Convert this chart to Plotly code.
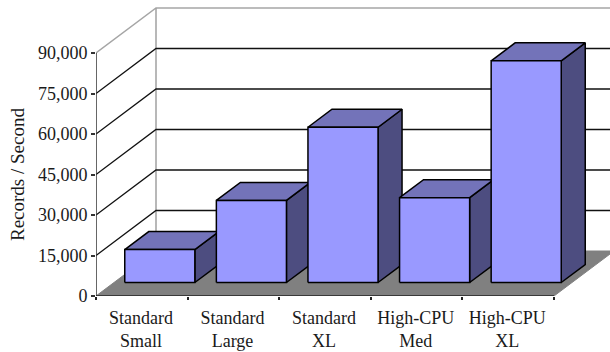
import plotly.graph_objects as go

# Chart content
categories = ["Standard<br>Small", "Standard<br>Large", "Standard<br>XL", "High-CPU<br>Med", "High-CPU<br>XL"]
records_per_second = [12200, 30400, 57500, 31400, 82100]
value_ticks = [0, 15000, 30000, 45000, 60000, 75000, 90000]

# Oblique projection: full depth of the chart box, in axis units
DEPTH_X = 0.655
DEPTH_Y = 16667
BAR_FRONT = 0.3
BAR_BACK = 0.7
BAR_WIDTH = 0.765
TEXT_COLOR = "#1a1a1a"

X_MAX = 5.0
fig = go.Figure()


def project(x, depth, value):
    return x + depth * DEPTH_X, value + depth * DEPTH_Y


def poly(corners, fill=None, line="#000000", width=1.5):
    xs, ys = zip(*[project(*c) for c in corners])
    fig.add_trace(go.Scatter(
        x=list(xs), y=list(ys), mode="lines",
        fill="toself" if fill else None, fillcolor=fill,
        line=dict(color=line, width=width), hoverinfo="skip", showlegend=False,
    ))


# Floor
poly([(0, 0, 0), (X_MAX, 0, 0), (X_MAX, 1, 0), (0, 1, 0), (0, 0, 0)], fill="#808080", line="#808080", width=1)

# Wall edges and gridlines
poly([(0, 0, 90000), (0, 1, 90000), (X_MAX, 1, 90000)], line="#a6a6a6", width=1.5)
poly([(0, 1, 0), (0, 1, 90000)], line="#a0a0a0", width=1.5)
for v in value_ticks[1:-1]:
    poly([(0, 0, v), (0, 1, v), (X_MAX, 1, v)], line="#111111", width=1.3)

# Bars, left to right so nearer faces overlap correctly
for i, v in enumerate(records_per_second):
    x0 = i + (1 - BAR_WIDTH) / 2
    x1 = x0 + BAR_WIDTH
    f, b = BAR_FRONT, BAR_BACK
    poly([(x1, f, 0), (x1, b, 0), (x1, b, v), (x1, f, v), (x1, f, 0)], fill="#4d4d80")
    poly([(x0, f, v), (x1, f, v), (x1, b, v), (x0, b, v), (x0, f, v)], fill="#7373b9")
    poly([(x0, f, 0), (x1, f, 0), (x1, f, v), (x0, f, v), (x0, f, 0)], fill="#9999ff")

# Front axis lines
poly([(0, 0, 0), (0, 0, 90000)], line="#333333", width=1.5)
poly([(0, 0, 0), (X_MAX, 0, 0)], line="#222222", width=1.5)

fig.update_layout(
    width=610, height=352,
    margin=dict(l=96, r=0, t=0, b=56, autoexpand=False),
    paper_bgcolor="white", plot_bgcolor="white",
    showlegend=False,
    xaxis=dict(
        range=[0, 514 / 91.6],
        tickmode="array",
        tickvals=[i + 0.49 for i in range(len(categories))],
        ticktext=categories,
        ticks="outside", ticklen=5, tickcolor="rgba(0,0,0,0)",
        showgrid=False, zeroline=False, showline=False,
        tickfont=dict(family="Liberation Serif", size=18, color=TEXT_COLOR),
        minor=dict(
            tickmode="array", tickvals=[0, 1, 2, 3, 4, 5],
            ticks="outside", ticklen=3, tickwidth=1.5, tickcolor="#222222", showgrid=False,
        ),
    ),
    yaxis=dict(
        range=[0, 296 / 40.5 * 15000],
        tickmode="array", tickvals=value_ticks, tickformat=",d",
        ticks="outside", ticklen=4, tickwidth=1.5, tickcolor="#333333",
        showgrid=False, zeroline=False, showline=False,
        tickfont=dict(family="Liberation Serif", size=18, color=TEXT_COLOR),
    ),
    annotations=[dict(
        text="Records / Second", textangle=-90, showarrow=False,
        xref="paper", yref="paper", x=-79 / 514, y=(296 - 175) / 296,
        xanchor="center", yanchor="middle",
        font=dict(family="Liberation Serif", size=19, color=TEXT_COLOR),
    )],
)

fig.write_html("out.html", config=dict(displayModeBar=False))
